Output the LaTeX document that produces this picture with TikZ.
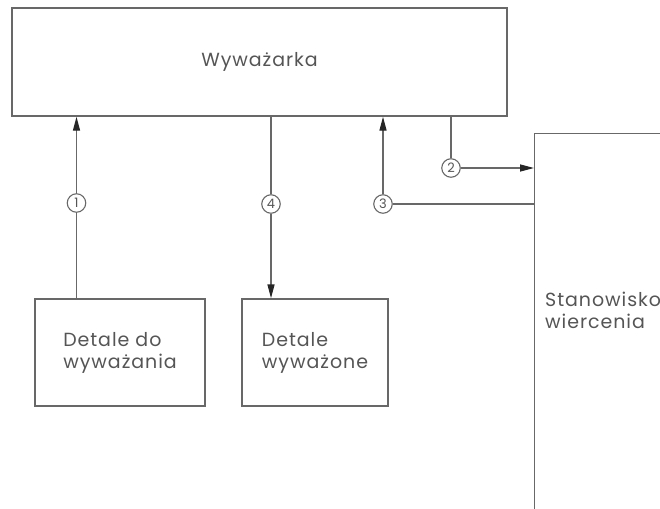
\documentclass[tikz,border=0pt]{standalone}
\usepackage{fontspec}
\setmainfont{Poppins}[LetterSpace=5]
\usetikzlibrary{arrows.meta,calc}
\definecolor{ln}{HTML}{686868}
\definecolor{tx}{HTML}{555555}
\begin{document}
\begin{tikzpicture}[x=1pt,y=-1pt,
 box/.style={draw=ln,line width=1.4pt,inner sep=0pt,text=tx,font=\fontsize{19}{22}\selectfont,align=left},
 num/.style={circle,draw=ln,line width=1.1pt,minimum size=18.5pt,inner sep=0pt,text=tx,font=\fontsize{13}{13}\selectfont},
 conn/.style={draw=ln,line width=1.4pt},
 arr/.style={conn,-{Triangle[length=14pt,width=7pt,color=black!85]}}]
\useasboundingbox (0,0) rectangle (660,508);
\clip (0,0) rectangle (660,508);
\node[box,minimum width=495pt,minimum height=108pt] (wyw) at (259.5,62) {Wyważarka};
\node[box,minimum width=170pt,minimum height=107pt] (d1) at (120,352.5) {Detale do\\wyważania};
\node[box,minimum width=146pt,minimum height=107pt] (d2) at (315,352.5) {Detale\\wyważone};
\node[box,minimum width=170pt,minimum height=430pt,anchor=north west] (st) at (534,133) {};
\node[text=tx,font=\fontsize{19}{22}\selectfont,anchor=north west,align=left,inner sep=0pt] (stl) at (545,292) {Stanowisko\\wiercenia};
\node[num] (c1) at (76.5,203) {1};
\node[num] (c4) at (271,204) {4};
\node[num] (c3) at (383,204) {3};
\node[num] (c2) at (451,168) {2};
\draw[conn] (c1 |- d1.north) -- (c1.south);
\draw[arr] (c1.north) -- (c1 |- wyw.south);
\draw[conn] (c4 |- wyw.south) -- (c4.north);
\draw[arr] (c4.south) -- (c4 |- d2.north);
\draw[arr] (c3.north) -- (c3 |- wyw.south);
\draw[conn] (c3.east) -- (c3 -| st.west);
\draw[conn] (c2 |- wyw.south) -- (c2.north);
\draw[arr] (c2.east) -- (c2 -| st.west);
\end{tikzpicture}
\end{document}
